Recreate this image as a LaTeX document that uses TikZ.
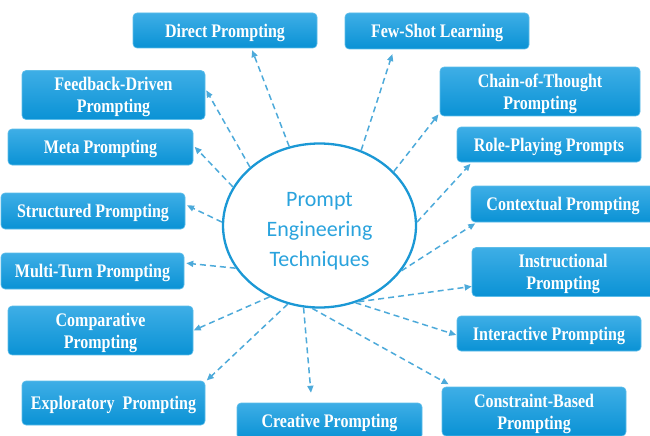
\documentclass[tikz,border=0pt]{standalone}
\usepackage{fontspec}
\setmainfont{Liberation Serif}
\newfontfamily\hubfont{Carlito}
\usepackage{graphicx}
\usetikzlibrary{arrows.meta,shapes.geometric}

\definecolor{boxtop}{HTML}{3EAEE6}
\definecolor{boxbot}{HTML}{0A92D5}
\definecolor{boxedge}{HTML}{5DBDE9}
\definecolor{ringblue}{HTML}{1B98D5}
\definecolor{titleblue}{HTML}{2AA3DD}
\definecolor{linkblue}{HTML}{4DAADA}

% tall, narrow bold serif label (one or two lines), set a little low in its box
\newcommand{\tallbold}[1]{\raisebox{0pt}[\dimexpr\height+5pt\relax][\depth]{\scalebox{1}[1.2]{\fontsize{16}{18.3}\selectfont\bfseries\begin{tabular}{@{}c@{}}#1\end{tabular}}}}
% three-line title inside the hub
\newcommand{\hubtitle}[1]{\raisebox{0pt}[\dimexpr\height+10pt\relax][\depth]{\hubfont\fontsize{22}{30}\selectfont\begin{tabular}{@{}c@{}}#1\end{tabular}}}

\begin{document}
\begin{tikzpicture}[x=1pt,y=-1pt,
  technique/.style={rectangle, rounded corners=4pt, draw=boxedge, line width=0.6pt,
    top color=boxtop, bottom color=boxbot, text=white, inner sep=0pt},
  link/.style={draw=linkblue, line width=1.5pt, dash pattern=on 6pt off 4pt,
    -{Triangle[length=7pt,width=6pt]}, shorten >=2pt}]
\useasboundingbox (0,0) rectangle (650,436);
\clip (0,0) rectangle (650,436);

% central ellipse
\node[ellipse, draw=ringblue, line width=2.3pt, fill=white, inner sep=0pt,
      minimum width=193pt, minimum height=164pt, text=titleblue] (hub) at (319.5,225.5)
      {\hubtitle{Prompt\\Engineering\\Techniques}};

% technique boxes
\node[technique, minimum width=184pt, minimum height=35pt] (direct) at (225,30.5) {\tallbold{Direct Prompting}};
\node[technique, minimum width=184pt, minimum height=36pt] (fewshot) at (437,31) {\tallbold{Few-Shot Learning}};
\node[technique, minimum width=183pt, minimum height=42pt] (feedback) at (113.5,95) {\tallbold{Feedback-Driven\\Prompting}};
\node[technique, minimum width=200pt, minimum height=43pt] (chain) at (540,91.5) {\tallbold{Chain-of-Thought\\Prompting}};
\node[technique, minimum width=185pt, minimum height=36pt] (meta) at (100.5,147) {\tallbold{Meta Prompting}};
\node[technique, minimum width=184pt, minimum height=35pt] (roleplay) at (549,144.5) {\tallbold{Role-Playing Prompts}};
\node[technique, minimum width=184pt, minimum height=36pt] (structured) at (93,211) {\tallbold{Structured Prompting}};
\node[technique, minimum width=184pt, minimum height=36pt] (contextual) at (563,204) {\tallbold{Contextual Prompting}};
\node[technique, minimum width=183pt, minimum height=36pt] (multiturn) at (92.5,271) {\tallbold{Multi-Turn Prompting}};
\node[technique, minimum width=182pt, minimum height=42pt] (instructional) at (563,272) {\tallbold{Instructional\\Prompting}};
\node[technique, minimum width=185pt, minimum height=41pt] (comparative) at (100.5,330.5) {\tallbold{Comparative\\Prompting}};
\node[technique, minimum width=184pt, minimum height=35pt] (interactive) at (549,333.5) {\tallbold{Interactive Prompting}};
\node[technique, minimum width=183pt, minimum height=44pt] (exploratory) at (113.5,403) {\tallbold{Exploratory\ \ Prompting}};
\node[technique, minimum width=185pt, minimum height=36pt] (creative) at (329.5,421) {\tallbold{Creative Prompting}};
\node[technique, minimum width=184pt, minimum height=45pt] (constraint) at (534,411.5) {\tallbold{Constraint-Based\\Prompting}};

% dashed connectors from the hub
\draw[link] (hub.111) -- (direct.-34.9);
\draw[link, shorten >=5pt] (hub.61.1) -- (fewshot.-157.8);
\draw[link] (hub.140.4) -- (feedback.4.4);
\draw[link] (hub.156.3) -- (meta.1.9);
\draw[link] (hub.178) -- (structured.4.4);
\draw[link] (hub.-153.3) -- (multiturn.5.6);
\draw[link, shorten >=0.5pt] (hub.-125.5) -- (comparative.0);
\draw[link] (hub.-112) -- (exploratory.13.5);
\draw[link, shorten >=10pt] (hub.-101.5) -- (creative.134);
\draw[link, shorten >=5pt] (hub.-95) -- (constraint.163.7);
\draw[link, shorten >=0.5pt] (hub.-65.9) -- (interactive.-179.1);
\draw[link, shorten >=0pt] (hub.-63.6) -- (instructional.-171.1);
\draw[link] (hub.-29.1) -- (contextual.-168.4);
\draw[link] (hub.2) -- (roleplay.-167.8);
\draw[link] (hub.36.4) -- (chain.-168.2);
\end{tikzpicture}
\end{document}
